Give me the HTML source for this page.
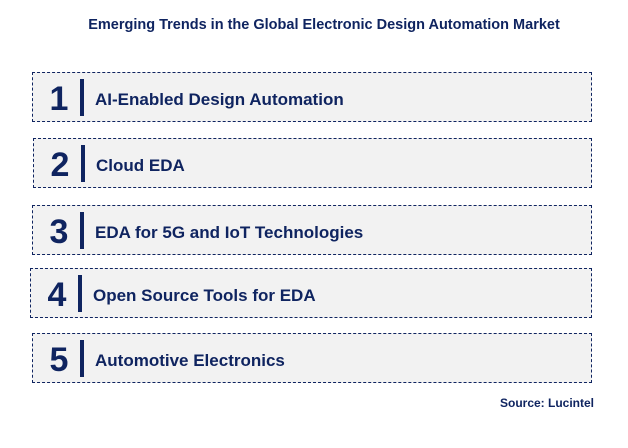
<!DOCTYPE html>
<html><head><style>
body{margin:0;width:628px;height:448px;background:#fff;position:relative;font-family:"Liberation Sans",Arial,sans-serif;color:#0f2460;overflow:hidden}
.t{position:absolute;top:17px;left:0;width:648px;text-align:center;font-weight:bold;font-size:14.5px}
.b{position:absolute;left:32px;width:558px;height:48px;background:#f2f2f2;border:1.5px dashed #0f2460}
.n{position:absolute;left:12px;top:7px;width:28px;text-align:center;font-size:34px;font-weight:bold;line-height:38px}
.bar{position:absolute;left:47px;top:6px;width:4px;height:37px;background:#0f2460}
.l{position:absolute;left:62px;top:17px;font-size:17px;font-weight:bold;line-height:20px}
.s{position:absolute;right:34px;top:396px;font-weight:bold;font-size:12px}
</style></head><body>
<div class="t">Emerging Trends in the Global Electronic Design Automation Market</div>
<div class="b" style="top:72px"><div class="n">1</div><div class="bar"></div><div class="l">AI-Enabled Design Automation</div></div>
<div class="b" style="top:138px;left:33px;width:557px"><div class="n">2</div><div class="bar"></div><div class="l">Cloud EDA</div></div>
<div class="b" style="top:205px"><div class="n">3</div><div class="bar"></div><div class="l">EDA for 5G and IoT Technologies</div></div>
<div class="b" style="top:268px;left:30px;width:560px"><div class="n">4</div><div class="bar"></div><div class="l">Open Source Tools for EDA</div></div>
<div class="b" style="top:333px"><div class="n">5</div><div class="bar"></div><div class="l">Automotive Electronics</div></div>
<div class="s">Source: Lucintel</div>
</body></html>
